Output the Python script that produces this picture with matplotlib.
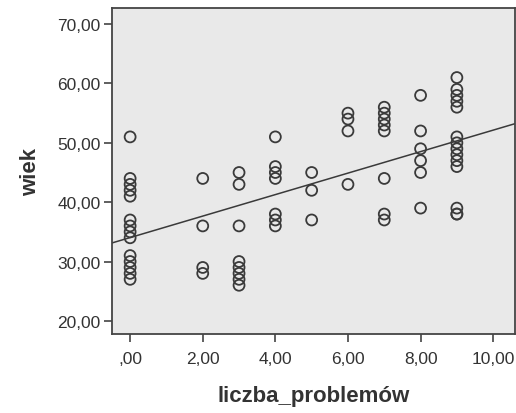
import numpy as np
import matplotlib
matplotlib.use("Agg")
import matplotlib.pyplot as plt
from matplotlib.ticker import FuncFormatter

# Data (liczba_problemów, wiek)
x0 = [0] * 14
y0 = [51, 44, 43, 42, 41, 37, 36, 35, 34, 31, 30, 29, 28, 27]
x2 = [2] * 4
y2 = [44, 36, 29, 28]
x3 = [3] * 8
y3 = [45, 43, 36, 30, 29, 28, 27, 26]
x4 = [4] * 7
y4 = [51, 46, 45, 44, 38, 37, 36]
x5 = [5] * 3
y5 = [45, 42, 37]
x6 = [6] * 4
y6 = [55, 54, 52, 43]
x7 = [7] * 8
y7 = [56, 55, 54, 53, 52, 44, 38, 37]
x8 = [8] * 6
y8 = [58, 52, 49, 47, 45, 39]
x9 = [9] * 14
y9 = [61, 59, 58, 57, 56, 51, 50, 49, 48, 47, 46, 39, 38, 38]

xs = np.array(x0 + x2 + x3 + x4 + x5 + x6 + x7 + x8 + x9, dtype=float)
ys = np.array(y0 + y2 + y3 + y4 + y5 + y6 + y7 + y8 + y9, dtype=float)

x_ticks = [0, 2, 4, 6, 8, 10]
y_ticks = [20, 30, 40, 50, 60, 70]

plt.rcParams['font.family'] = ['Liberation Sans', 'DejaVu Sans']

fig = plt.figure(figsize=(5.16, 4.14), dpi=100)
ax = fig.add_axes([0.217, 0.191, 0.781, 0.787])
ax.set_facecolor('#e9e9e9')

ax.scatter(xs, ys, s=62, facecolors='none', edgecolors='#3a3a3a', linewidths=1.3, zorder=3)

slope, intercept = np.polyfit(xs, ys, 1)
xl = np.array([-0.5, 10.6])
ax.plot(xl, intercept + slope * xl, color='#3a3a3a', lw=1.1, zorder=2)

ax.set_xlim(-0.5, 10.6)
ax.set_ylim(17.8, 72.7)
ax.set_xticks(x_ticks)
ax.set_yticks(y_ticks)

def fmt(v, pos):
    s = f"{v:.2f}".replace('.', ',')
    if s.startswith('0,'):
        s = s[1:]
    return s

ax.xaxis.set_major_formatter(FuncFormatter(fmt))
ax.yaxis.set_major_formatter(FuncFormatter(fmt))
ax.tick_params(axis='both', direction='out', length=6, width=1.2, color='#444444',
               labelsize=12.5, labelcolor='#333333', pad=2)
ax.tick_params(axis='x', pad=6)
for sp in ax.spines.values():
    sp.set_color('#444444')
    sp.set_linewidth(1.3)

ax.set_xlabel('liczba_problemów', fontsize=16, fontweight='bold', color='#333333', labelpad=14)
ax.set_ylabel('wiek', fontsize=16, fontweight='bold', color='#333333', labelpad=12)

fig.savefig('out.png', dpi=100, facecolor='white')
